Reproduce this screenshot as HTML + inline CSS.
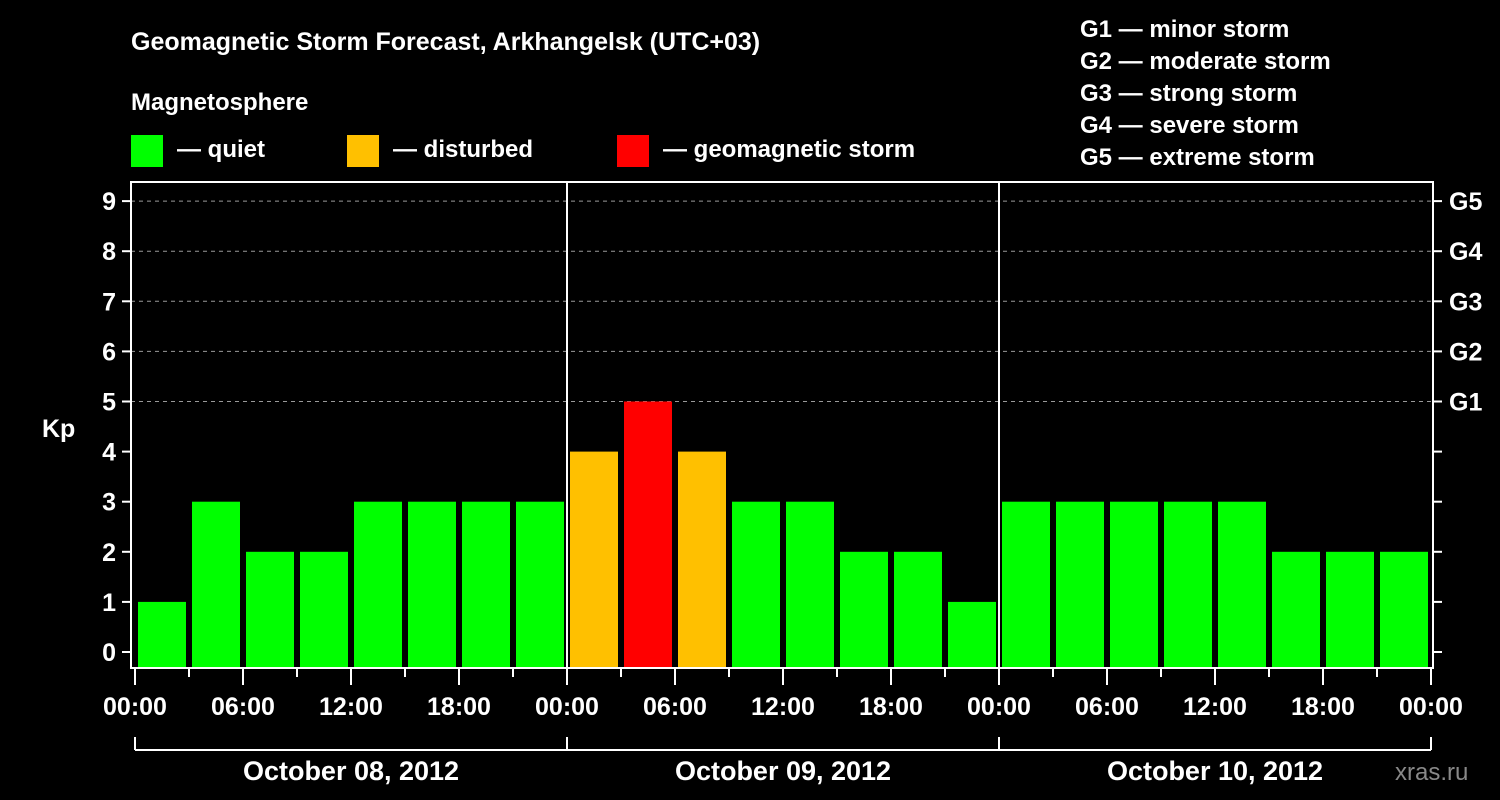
<!DOCTYPE html>
<html><head><meta charset="utf-8"><style>
html,body{margin:0;padding:0;background:#000;}
svg{display:block;font-family:"Liberation Sans",Arial,sans-serif;font-weight:bold;}
</style></head><body>
<svg id="chart" width="1500" height="800" viewBox="0 0 1500 800">
<rect width="1500" height="800" fill="#000"/>
<text x="131" y="50" fill="#fff" font-size="25">Geomagnetic Storm Forecast, Arkhangelsk (UTC+03)</text>
<text x="131" y="110" fill="#fff" font-size="24">Magnetosphere</text>
<g><rect x="131" y="135" width="32" height="32" fill="#00ff00"/><text x="177" y="157" fill="#fff" font-size="24">— quiet</text></g>
<g><rect x="347" y="135" width="32" height="32" fill="#ffc000"/><text x="393" y="157" fill="#fff" font-size="24">— disturbed</text></g>
<g><rect x="617" y="135" width="32" height="32" fill="#ff0000"/><text x="663" y="157" fill="#fff" font-size="24">— geomagnetic storm</text></g>
<g fill="#fff" font-size="24">
<text x="1080" y="37">G1 — minor storm</text>
<text x="1080" y="69">G2 — moderate storm</text>
<text x="1080" y="101">G3 — strong storm</text>
<text x="1080" y="133">G4 — severe storm</text>
<text x="1080" y="165">G5 — extreme storm</text>
</g>
<text x="42" y="437" fill="#fff" font-size="25">Kp</text>
<text x="1395" y="780" fill="#888" font-size="24" font-weight="normal">xras.ru</text>
<g id="grid"></g><g id="bars"></g><g id="axes"></g>
</svg>
<script>
const kpValues=[1,3,2,2,3,3,3,3, 4,5,4,3,3,2,2,1, 3,3,3,3,3,2,2,2];
const dayLabels=["October 08, 2012","October 09, 2012","October 10, 2012"];
const hourLabels=["00:00","06:00","12:00","18:00"];
const gLabels=["G1","G2","G3","G4","G5"];
const yTicks=[0,1,2,3,4,5,6,7,8,9];
const NS="http://www.w3.org/2000/svg";
const X0=135,DAYW=432,SLOT=DAYW/8;
const yS=v=>652-50.1*v;
const xS=i=>X0+i*SLOT;
const L=131,R=1433,T=182,B=668;
function mk(t,a,p,txt){const e=document.createElementNS(NS,t);for(const k in a)e.setAttribute(k,a[k]);if(txt!==undefined)e.textContent=txt;p.appendChild(e);return e;}
const grid=document.getElementById('grid'),bars=document.getElementById('bars'),axes=document.getElementById('axes');
for(let v=5;v<=9;v++){
 const l=mk('line',{x1:L,x2:R,y1:yS(v),y2:yS(v),stroke:'#999','stroke-dasharray':'4,4','stroke-width':1},grid);
 
 
}
kpValues.forEach((v,i)=>{
 const c=v>=5?'#ff0000':(v>=4?'#ffc000':'#00ff00');
 const r=mk('rect',{x:xS(i)+3,y:yS(v),width:SLOT-6,height:B-1-yS(v),fill:c},bars);
 
 
});
const fr=mk('rect',{x:L,y:T,width:R-L,height:B-T,fill:'none',stroke:'#fff','stroke-width':2},axes);


for(let d=1;d<dayLabels.length;d++){
 const l=mk('line',{x1:X0+d*DAYW,x2:X0+d*DAYW,y1:T,y2:B,stroke:'#fff','stroke-width':2},axes);
 
 
}
yTicks.forEach(v=>{
 mk('line',{x1:122,x2:L,y1:yS(v),y2:yS(v),stroke:'#fff','stroke-width':2},axes);
 mk('line',{x1:R,x2:1442,y1:yS(v),y2:yS(v),stroke:'#fff','stroke-width':2},axes);
 const t=mk('text',{x:116,y:yS(v)+9,fill:'#fff','font-size':25,'text-anchor':'end'},axes,String(v));
 
 
});
gLabels.forEach((g,i)=>{
 const t=mk('text',{x:1449,y:yS(5+i)+9,fill:'#fff','font-size':25},axes,g);
 
 
});
const nDays=dayLabels.length;
for(let i=0;i<=nDays*8;i++){
 const x=xS(i),major=i%2===0;
 mk('line',{x1:x,x2:x,y1:B,y2:major?685:677,stroke:'#fff','stroke-width':2},axes);
 if(major){
  const t=mk('text',{x:x,y:715,fill:'#fff','font-size':25,'text-anchor':'middle'},axes,hourLabels[(i/2)%4]);
  
  
 }
}
mk('line',{x1:X0,x2:X0+nDays*DAYW,y1:750,y2:750,stroke:'#fff','stroke-width':2},axes);
for(let d=0;d<=nDays;d++)mk('line',{x1:X0+d*DAYW,x2:X0+d*DAYW,y1:737,y2:750,stroke:'#fff','stroke-width':2},axes);
dayLabels.forEach((s,d)=>{
 const t=mk('text',{x:X0+d*DAYW+DAYW/2,y:780,fill:'#fff','font-size':27,'text-anchor':'middle'},axes,s);
 
 
});
</script>
</body></html>
